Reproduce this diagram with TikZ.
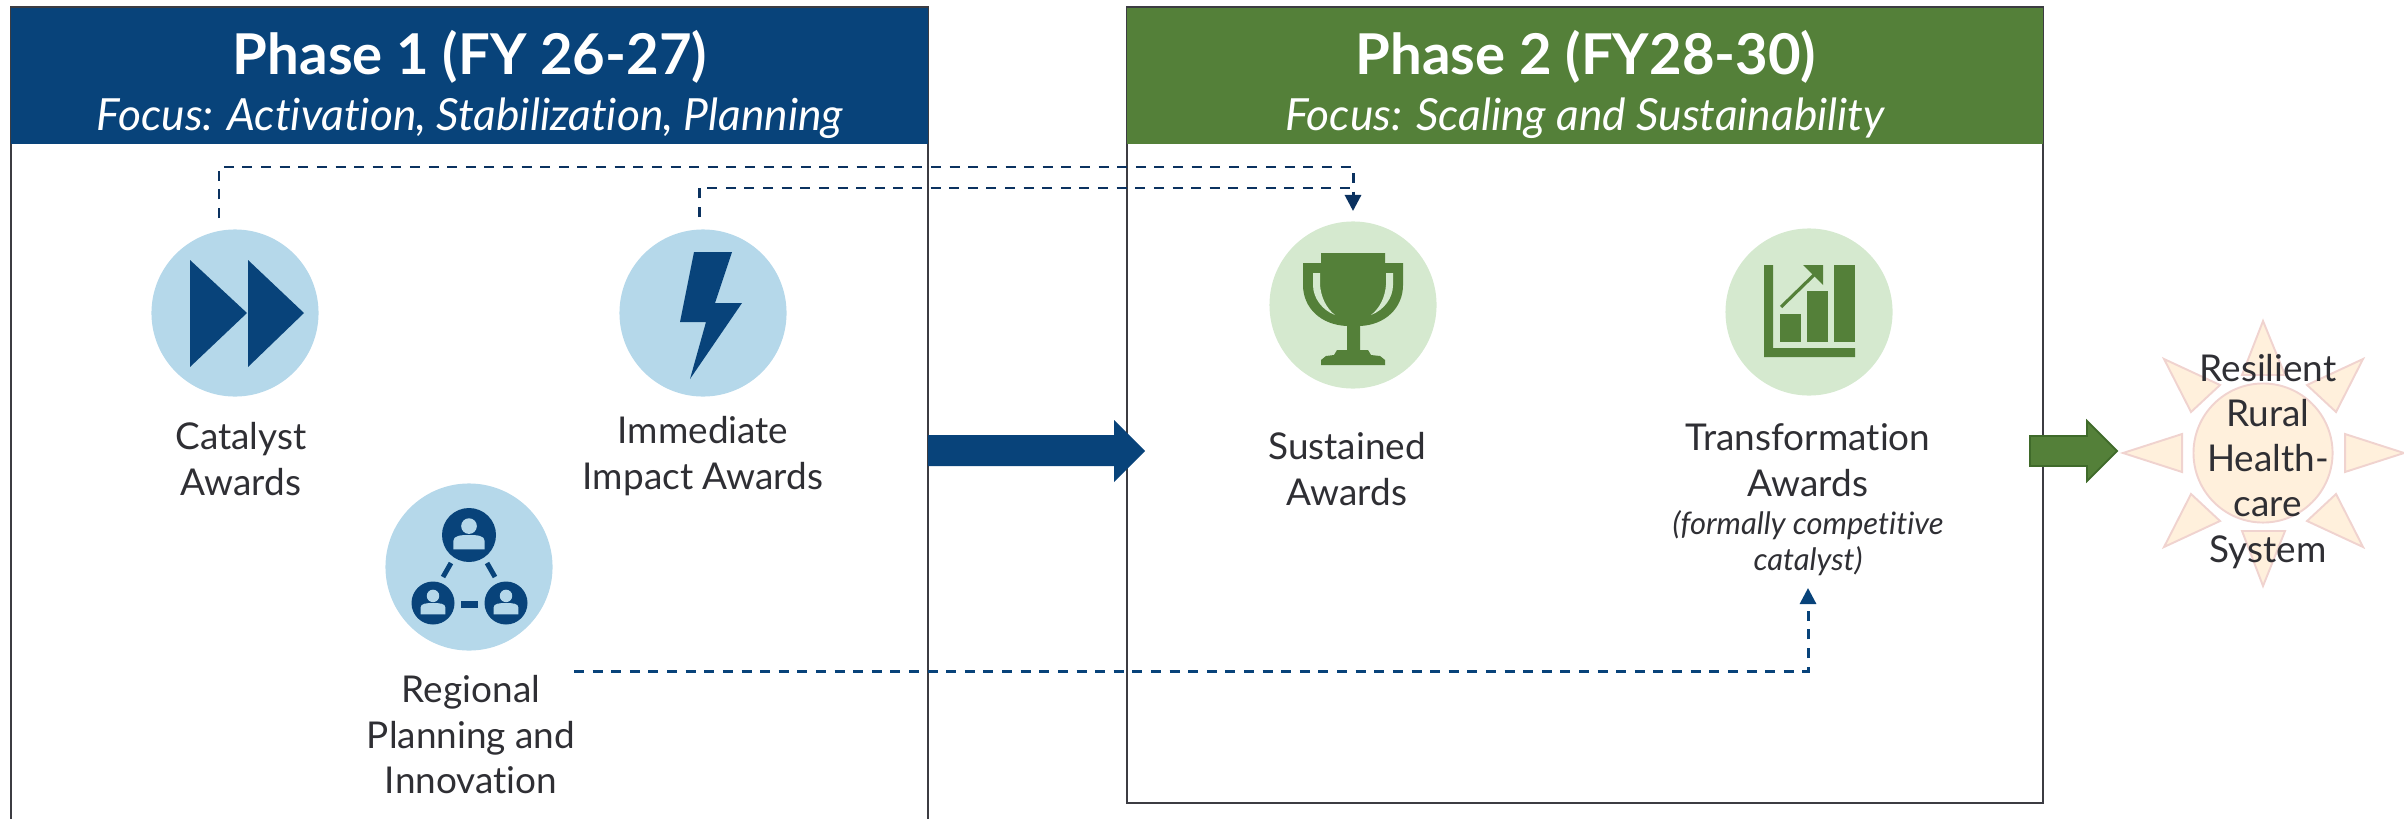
\documentclass[tikz,border=0pt]{standalone}
\usepackage{fontspec}
\setmainfont[Ligatures=NoCommon]{Lato}
\usetikzlibrary{arrows.meta}
\definecolor{navyfill}{HTML}{08437A}
\definecolor{navyline}{HTML}{0B3260}
\definecolor{skyfill}{HTML}{B5D8EA}
\definecolor{leaf}{HTML}{548039}
\definecolor{leafline}{HTML}{3F6A2A}
\definecolor{mint}{HTML}{D5E9CF}
\definecolor{inktext}{HTML}{2F2F34}
\definecolor{boxline}{HTML}{3C3C42}
\definecolor{sunfill}{HTML}{FFF0DC}
\definecolor{sunline}{HTML}{F0D3CF}
\tikzset{
  phasebox/.style={draw=boxline, line width=0.6pt},
  titletext/.style={text=white, font=\fontsize{16}{18}\selectfont\bfseries, anchor=base},
  focustext/.style={text=white, font=\fontsize{12.6}{15}\selectfont\itshape, anchor=base},
  iconblue/.style={circle, fill=skyfill, minimum size=1.67cm, inner sep=0pt},
  icongreen/.style={circle, fill=mint, minimum size=1.67cm, inner sep=0pt},
  awardtext/.style={text=inktext, align=center, anchor=base, inner sep=0pt,
    font=\fontsize{10.5}{12.8}\selectfont},
  notetext/.style={text=inktext, align=center, anchor=base, inner sep=0pt,
    font=\fontsize{8.8}{10.2}\selectfont\itshape},
  flow/.style={line width=0.85pt, dash pattern=on 0.1cm off 0.086cm},
  flowtip/.style={-{Triangle[length=0.16cm, width=0.16cm]}},
  ray/.style={fill=sunfill, draw=sunline, line width=0.55pt},
}
\begin{document}
\begin{tikzpicture}[x=0.01cm, y=-0.01cm]
\useasboundingbox (0,0) rectangle (2404,818);

% phase boxes
\draw[phasebox] (11,7) rectangle (928,840);
\fill[navyfill] (11,7) rectangle (928,144);
\draw[phasebox] (11,7) -- (928,7);
\draw[phasebox] (1127,7) rectangle (2043,803);
\fill[leaf] (1127,7) rectangle (2043,144);
\draw[phasebox] (1127,7) -- (2043,7);
\node[titletext] (titleone) at (470,74) {Phase 1 (FY 26-27)};
\node[focustext] (focusone) at (470,130) {Focus: Activation, Stabilization, Planning};
\node[titletext] (titletwo) at (1586,74) {Phase 2 (FY28-30)};
\node[focustext] (focustwo) at (1585,130) {Focus: Scaling and Sustainability};

% award circles
\node[iconblue] (catalyst) at (235,313) {};
\node[iconblue] (immediate) at (703,313) {};
\node[iconblue] (regional) at (469,567) {};
\node[icongreen] (sustained) at (1353,305) {};
\node[icongreen] (transform) at (1809,312) {};

% catalyst and bolt icons
\fill[navyfill] (190,260) -- (247,313) -- (190,367) -- cycle;
\fill[navyfill] (248,260) -- (304,313) -- (248,367) -- cycle;
\fill[navyfill] (694,252) -- (732,252) -- (715,303) -- (742,303) -- (690,379) -- (706,322) -- (680,322) -- cycle;

% people icon
\foreach \px/\py/\pr in {469/535/27, 433/603/21.5, 506/603/21.5} {
  \fill[navyfill] (\px,\py) circle (\pr);
  \fill[skyfill] (\px,\py-0.33*\pr) circle (0.29*\pr);
  \fill[skyfill] (\px-0.58*\pr,\py+0.53*\pr) -- (\px-0.58*\pr,\py+0.22*\pr)
    .. controls (\px-0.58*\pr,\py+0.02*\pr) and (\px-0.3*\pr,\py) .. (\px,\py)
    .. controls (\px+0.3*\pr,\py) and (\px+0.58*\pr,\py+0.02*\pr) .. (\px+0.58*\pr,\py+0.22*\pr)
    -- (\px+0.58*\pr,\py+0.53*\pr) -- cycle;
}
\fill[navyfill] (461,601) rectangle (478,608);
\draw[navyfill, line width=1.4pt] (451,563) -- (443,577);
\draw[navyfill, line width=1.4pt] (487,563) -- (495,577);

% trophy icon
\fill[leaf] (1321,253) -- (1385,253) -- (1385,263) -- (1403,263) -- (1403,285)
  .. controls (1403,308) and (1385,325) .. (1360,326) -- (1360,350) -- (1368,350) -- (1371,355)
  -- (1380,356) -- (1385,360) -- (1385,365) -- (1321,365) -- (1321,360) -- (1326,356) -- (1334,355)
  -- (1337,350) -- (1347,350) -- (1347,326)
  .. controls (1321,325) and (1303,308) .. (1303,285) -- (1303,263) -- (1321,263) -- cycle;
\fill[mint] (1313,273) -- (1320,273) -- (1320,285) .. controls (1321,297) and (1326,308) .. (1335,315)
  .. controls (1322,310) and (1313,298) .. (1313,285) -- cycle;
\fill[mint] (1393,273) -- (1386,273) -- (1386,285) .. controls (1385,297) and (1380,308) .. (1371,315)
  .. controls (1384,310) and (1393,298) .. (1393,285) -- cycle;

% chart icon
\fill[leaf] (1764,265) -- (1773,265) -- (1773,348) -- (1855,348) -- (1855,357) -- (1764,357) -- cycle;
\fill[leaf] (1780,314) rectangle (1801,342);
\fill[leaf] (1807,291) rectangle (1828,342);
\fill[leaf] (1834,265) rectangle (1855,342);
\draw[leaf, line width=0.9pt] (1781,307) -- (1817,272);
\fill[leaf] (1803,265) -- (1823,265) -- (1823,285) -- cycle;

% award labels
\node[awardtext] (catalysttext) at (241,495) {Catalyst\\Awards};
\node[awardtext] (immediatetext) at (703,489) {Immediate\\Impact Awards};
\node[awardtext] (regionaltext) at (471,793) {Regional\\Planning and\\Innovation};
\node[awardtext] (sustainedtext) at (1347,505) {Sustained\\Awards};
\node[awardtext] (transformtext) at (1808,496) {Transformation\\Awards};
\node[notetext] (transformnote) at (1808,570) {(formally competitive\\catalyst)};

% dashed links
\coordinate (catalystout) at (219,218);
\coordinate (immediateout) at (699,217);
\coordinate (regionalout) at (574,671);
\coordinate (sustainedin) at (1353,211);
\coordinate (transformin) at (1808,588);
\coordinate (railone) at (1353,167);
\coordinate (railtwo) at (1353,188);
\draw[flow, navyline] (immediateout) |- (railtwo);
\draw[flow, flowtip, navyline] (catalystout) |- (railone) -- (sustainedin);
\draw[flow, flowtip, navyfill] (regionalout) -| (transformin);

% block arrows
\fill[navyfill] (928,435) -- (1114,435) -- (1114,420) -- (1145,451) -- (1114,482) -- (1114,466) -- (928,466) -- cycle;
\filldraw[fill=leaf, draw=leafline, line width=0.5pt] (2030,436) -- (2087,436) -- (2087,421) -- (2117,451) -- (2087,481) -- (2087,466) -- (2030,466) -- cycle;

% sun
\foreach \rx/\ry/\sx/\sy/\tx/\ty in {
  2263/321/2242/375/2285/375, 2263/586/2242/531/2285/531,
  2123/453/2182/434/2182/472, 2404/453/2345/434/2345/472,
  2164/359/2220/385/2191/412, 2363/359/2307/385/2336/412,
  2164/547/2220/521/2191/494, 2363/547/2307/521/2336/494} {
  \filldraw[ray] (\rx,\ry) -- (\sx,\sy) -- (\tx,\ty) -- cycle;
}
\node[circle, fill=sunfill, draw=sunline, line width=0.55pt, minimum size=1.39cm, inner sep=0pt] (suncore) at (2263,453) {};
\node[awardtext] (suntext) at (2268,562) {Resilient\\Rural\\Health-\\care\\System};
\end{tikzpicture}
\end{document}
